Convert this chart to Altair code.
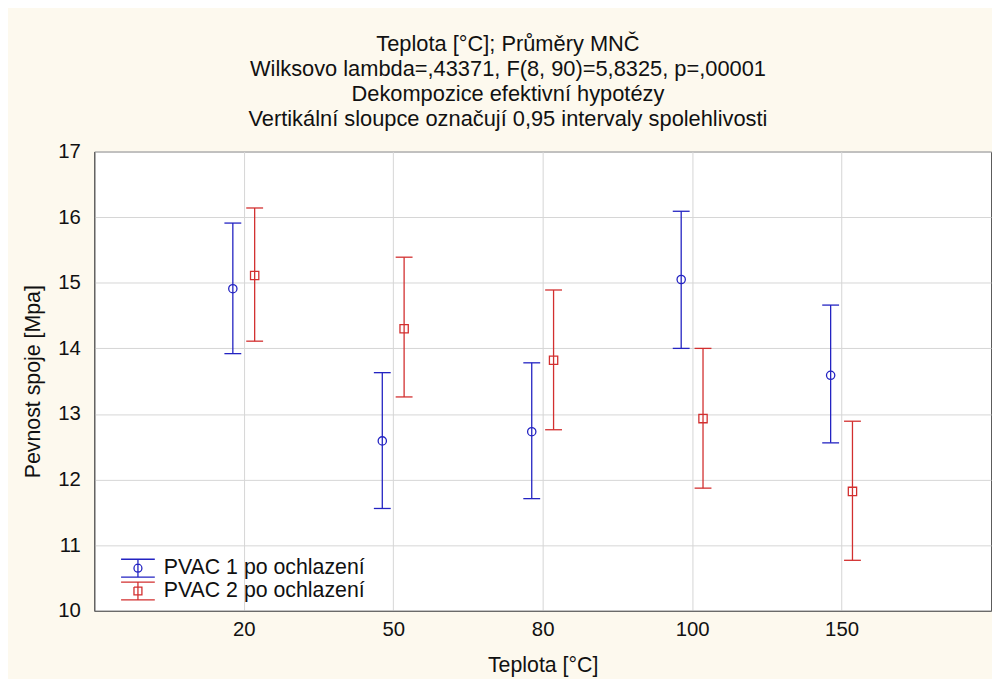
import altair as alt
import pandas as pd

temps = ["20", "50", "80", "100", "150"]
series_names = ["PVAC 1 po ochlazení", "PVAC 2 po ochlazení"]
pvac1_mean = [14.91, 12.59, 12.73, 15.05, 13.59]
pvac1_low = [13.92, 11.56, 11.71, 14.00, 12.56]
pvac1_high = [15.91, 13.63, 13.78, 16.09, 14.66]
pvac2_mean = [15.11, 14.30, 13.82, 12.93, 11.82]
pvac2_low = [14.11, 13.26, 12.76, 11.87, 10.77]
pvac2_high = [16.14, 15.39, 14.89, 14.00, 12.89]
y_ticks = [10, 11, 12, 13, 14, 15, 16, 17]

colors = ["#2323c2", "#d22f2f"]
shapes = ["circle", "square"]
offsets = [-11, 11]

rows = []
for name, means, lows, highs in [
    (series_names[0], pvac1_mean, pvac1_low, pvac1_high),
    (series_names[1], pvac2_mean, pvac2_low, pvac2_high),
]:
    for t, m, lo, hi in zip(temps, means, lows, highs):
        rows.append({"temp": t, "series": name, "mean": m, "low": lo, "high": hi})
df = pd.DataFrame(rows)

FONT = "Liberation Sans"

# legend glyphs: error bar with hollow marker (marker outline retraced so it encloses no area)
legend_paths = [
    "M-1.7,-0.9H1.7M-1.7,0.9H1.7M0,-0.9V0.9"
    "M0.4,0A0.4,0.4,0,1,1,-0.4,0A0.4,0.4,0,1,1,0.4,0"
    "A0.4,0.4,0,1,0,-0.4,0A0.4,0.4,0,1,0,0.4,0",
    "M-1.7,-0.9H1.7M-1.7,0.9H1.7M0,-0.9V0.9"
    "M-0.4,-0.4H0.4V0.4H-0.4V-0.4V0.4H0.4V-0.4H-0.4",
]

legend = alt.Legend(
    title=None,
    orient="none",
    legendX=33,
    legendY=409,
    symbolSize=400,
    symbolStrokeWidth=1.3,
    symbolFillColor="transparent",
    labelFontSize=21.5,
    labelFont=FONT,
    labelColor="#111111",
    labelOffset=15,
    labelLimit=400,
    rowPadding=-1,
    padding=0,
)

x_enc = alt.X(
    "temp:N",
    sort=temps,
    scale=alt.Scale(type="point", padding=1, domain=temps),
    axis=alt.Axis(title="Teplota [°C]", labelAngle=0),
)
y_scale = alt.Scale(domain=[10, 17], nice=False, zero=False)
y_axis = alt.Axis(title="Pevnost spoje [Mpa]", values=y_ticks)
color_scale = alt.Scale(domain=series_names, range=colors)
color_enc = alt.Color("series:N", scale=color_scale, legend=legend)
color_nolegend = alt.Color("series:N", scale=color_scale, legend=None)

legend_layer = (
    alt.Chart(df)
    .transform_filter("false")
    .mark_point(filled=False, strokeWidth=1.3, opacity=1)
    .encode(
        x=x_enc,
        y=alt.Y("mean:Q", scale=y_scale, axis=y_axis),
        color=color_enc,
        shape=alt.Shape(
            "series:N",
            scale=alt.Scale(domain=series_names, range=legend_paths),
            legend=legend,
        ),
    )
)
layers = [legend_layer]

for name, shp, dx in zip(series_names, shapes, offsets):
    base = alt.Chart(df).transform_filter(alt.datum.series == name)
    rule = base.mark_rule(xOffset=dx, strokeWidth=1.3, opacity=1).encode(
        x=x_enc,
        y=alt.Y("low:Q", scale=y_scale, axis=y_axis),
        y2="high:Q",
        color=color_nolegend,
    )
    tick_lo = base.mark_tick(
        xOffset=dx, thickness=1.3, size=17, orient="horizontal", opacity=1
    ).encode(x=x_enc, y=alt.Y("low:Q", scale=y_scale, axis=y_axis), color=color_nolegend)
    tick_hi = base.mark_tick(
        xOffset=dx, thickness=1.3, size=17, orient="horizontal", opacity=1
    ).encode(x=x_enc, y=alt.Y("high:Q", scale=y_scale, axis=y_axis), color=color_nolegend)
    pts = base.mark_point(
        xOffset=dx, shape=shp, size=70, strokeWidth=1.3, filled=False, opacity=1
    ).encode(x=x_enc, y=alt.Y("mean:Q", scale=y_scale, axis=y_axis), color=color_nolegend)
    layers += [rule, tick_lo, tick_hi, pts]

chart = (
    alt.layer(*layers)
    .properties(
        width=904,
        height=463,
        autosize=alt.AutoSizeParams(type="none"),
        padding={"left": 87, "top": 142, "right": 1, "bottom": 66},
        background="#fdf9ee",
        title=alt.TitleParams(
            text=[
                "Teplota [°C]; Průměry MNČ",
                "Wilksovo lambda=,43371, F(8, 90)=5,8325, p=,00001",
                "Dekompozice efektivní hypotézy",
                "Vertikální sloupce označují 0,95 intervaly spolehlivosti",
            ],
            fontSize=22,
            font=FONT,
            fontWeight="normal",
            color="#111111",
            lineHeight=25,
            anchor="middle",
            dx=-35,
            offset=11,
        ),
    )
    .configure_view(fill="white", stroke="#5a5a5a", strokeWidth=1)
    .configure_axis(
        labelFont=FONT,
        labelFontSize=20.5,
        labelColor="#111111",
        titleFont=FONT,
        titleFontSize=21.5,
        titleFontWeight="normal",
        titleColor="#111111",
        domainColor="#555555",
        gridColor="#d6d6d6",
        grid=True,
        ticks=False,
    )
    .configure_axisY(labelPadding=14, titlePadding=13)
    .configure_axisX(labelPadding=9, titlePadding=15)
)

chart.save("out.html", embed_options={"renderer": "svg", "actions": False})
